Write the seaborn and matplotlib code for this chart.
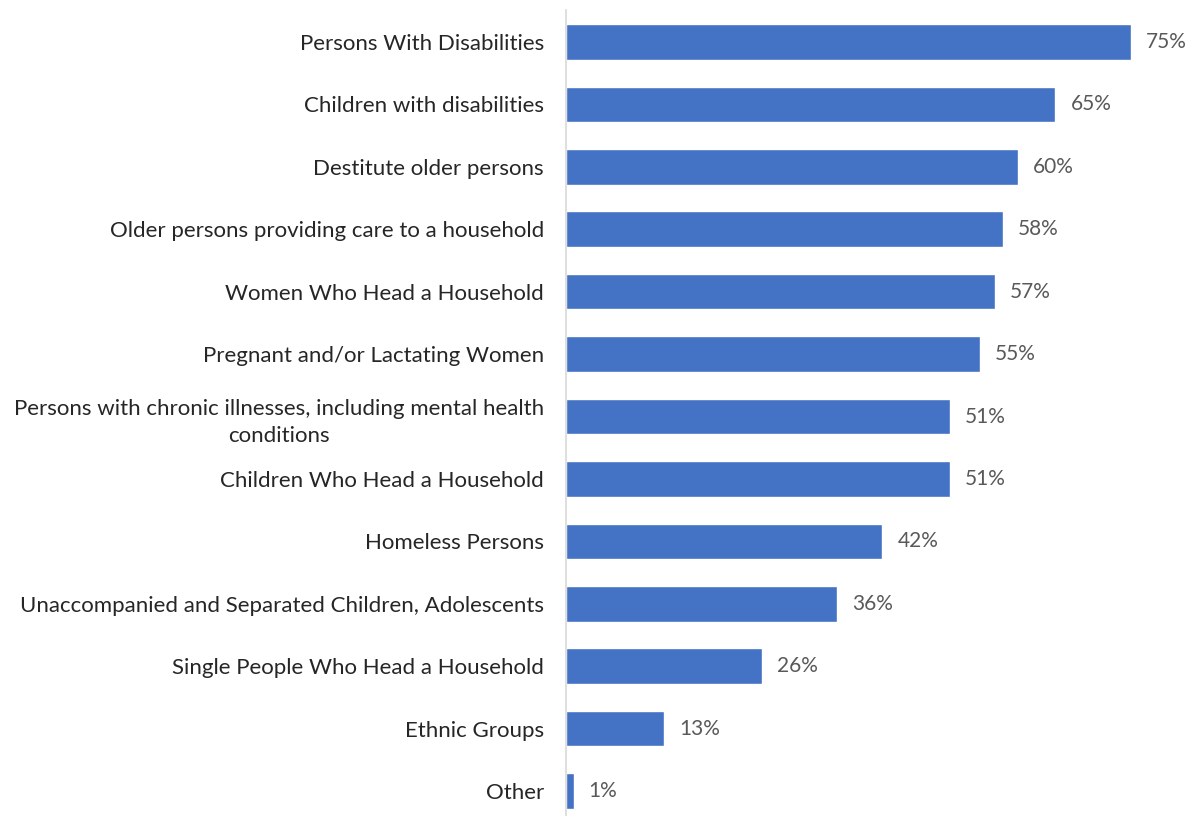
import matplotlib
matplotlib.use("Agg")
import matplotlib.pyplot as plt
import pandas as pd
import seaborn as sns

categories = [
    "Persons With Disabilities",
    "Children with disabilities",
    "Destitute older persons",
    "Older persons providing care to a household",
    "Women Who Head a Household",
    "Pregnant and/or Lactating Women",
    "Persons with chronic illnesses, including mental health\nconditions",
    "Children Who Head a Household",
    "Homeless Persons",
    "Unaccompanied and Separated Children, Adolescents",
    "Single People Who Head a Household",
    "Ethnic Groups",
    "Other",
]
values = [75, 65, 60, 58, 57, 55, 51, 51, 42, 36, 26, 13, 1]

df = pd.DataFrame({"Group": categories, "Share": values})

sns.set_style("white")
plt.rcParams["font.family"] = ["Lato", "DejaVu Sans"]

fig = plt.figure(figsize=(11.91, 8.16), dpi=100)
ax = fig.add_axes([566 / 1191, 0, (1191 - 566) / 1191, (816 - 10) / 816])

sns.barplot(data=df, x="Share", y="Group", color="#4472C4", width=0.57,
            saturation=1, ax=ax)

ax.set_xlim(0, 83)
ax.set_ylim(12.4, -0.513)
ax.set_xlabel("")
ax.set_ylabel("")
ax.set_xticks([])

for i, v in enumerate(values):
    ax.text(v + 2, i, "%d%%" % v, va="center", ha="left",
            fontsize=15, color="#595959")

ax.tick_params(axis="y", length=0, pad=16, labelsize=16, labelcolor="#262626")
for lbl in ax.get_yticklabels():
    lbl.set_multialignment("center")
    lbl.set_linespacing(1.45)

for s in ["top", "right", "bottom"]:
    ax.spines[s].set_visible(False)
ax.spines["left"].set_color("#d9d9d9")
ax.spines["left"].set_linewidth(1.2)

fig.savefig("out.png", dpi=100)
